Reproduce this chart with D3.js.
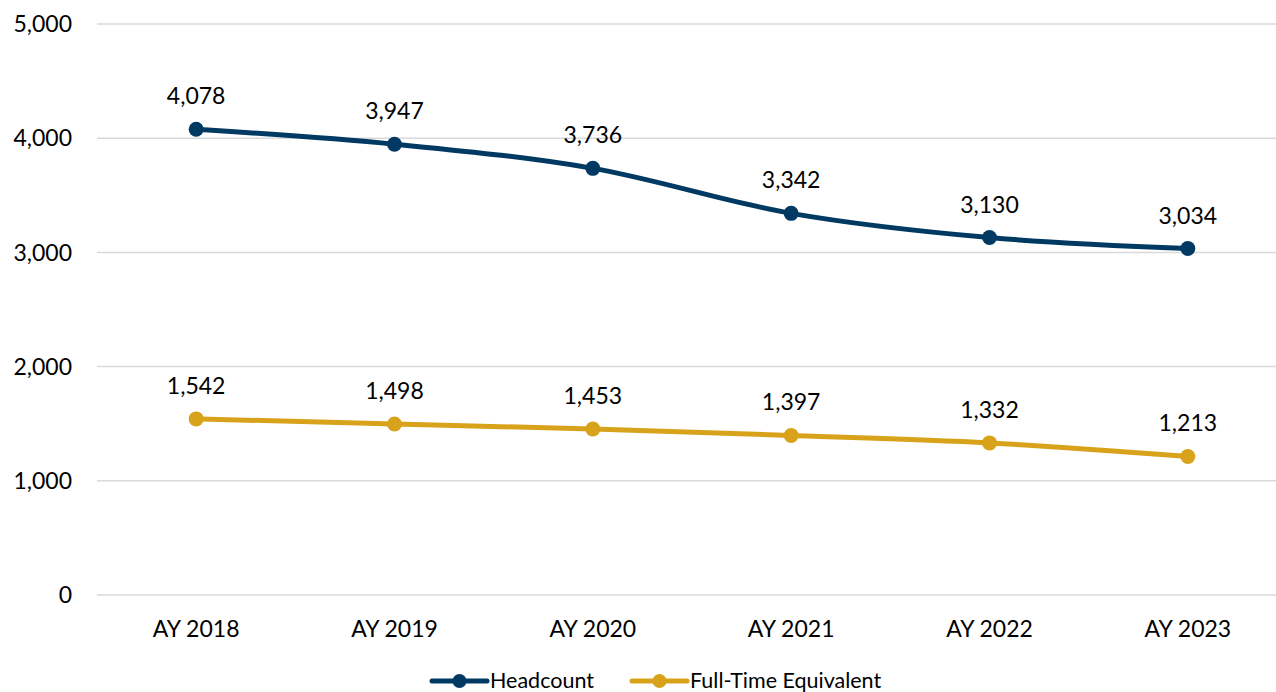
<!DOCTYPE html>
<html><head><meta charset="utf-8">
<script src="https://cdn.jsdelivr.net/npm/d3@7/dist/d3.min.js"></script>
<style>html,body{margin:0;padding:0;background:#fff;overflow:hidden}svg{display:block}</style>
</head><body><svg id="c" width="1276" height="692"></svg>
<script>
const categories = ["AY 2018","AY 2019","AY 2020","AY 2021","AY 2022","AY 2023"];
const headcount = [4078,3947,3736,3342,3130,3034];
const fte = [1542,1498,1453,1397,1332,1213];
const yTicks = [0,1000,2000,3000,4000,5000];
const seriesNames = ["Headcount","Full-Time Equivalent"];
const colors = ["#003A63","#D8A31A"];

const svg = d3.select("#c");
const font = "Lato, 'Open Sans', sans-serif";
const x = d3.scalePoint().domain(categories).range([97,1287]).padding(0.5);
const y = d3.scaleLinear().domain([0,5000]).range([595,24]);
const fmt = d3.format(",");

svg.append("g").selectAll("line").data(yTicks).join("line")
  .attr("x1",97).attr("x2",1276).attr("y1",d=>y(d)).attr("y2",d=>y(d))
  .attr("stroke","#d9d9d9").attr("stroke-width",1.5);

svg.append("g").selectAll("text").data(yTicks).join("text")
  .attr("x",72).attr("y",d=>y(d)).attr("dy","0.36em").attr("text-anchor","end")
  .attr("font-family",font).attr("font-size",23).attr("fill","#000").text(d=>fmt(d));

svg.append("g").selectAll("text").data(categories).join("text")
  .attr("x",d=>x(d)).attr("y",637).attr("text-anchor","middle")
  .attr("font-family",font).attr("font-size",23).attr("fill","#000").text(d=>d);

const line = d3.line().x((d,i)=>x(categories[i])).y(d=>y(d)).curve(d3.curveMonotoneX);
[headcount, fte].forEach((vals,si)=>{
  const g = svg.append("g");
  g.append("path").attr("d",line(vals)).attr("fill","none").attr("stroke",colors[si])
    .attr("stroke-width",5).attr("stroke-linecap","round");
  g.selectAll("circle").data(vals).join("circle")
    .attr("cx",(d,i)=>x(categories[i])).attr("cy",d=>y(d)).attr("r",7.5).attr("fill",colors[si]);
  g.selectAll("text").data(vals).join("text")
    .attr("x",(d,i)=>x(categories[i])).attr("y",d=>y(d)-25).attr("text-anchor","middle")
    .attr("font-family",font).attr("font-size",23).attr("fill","#000").text(d=>fmt(d));
});

const leg = svg.append("g");
const legX = [432,632];
seriesNames.forEach((n,i)=>{
  const lx = legX[i], ly = 681;
  leg.append("line").attr("x1",lx).attr("x2",lx+55).attr("y1",ly).attr("y2",ly)
    .attr("stroke",colors[i]).attr("stroke-width",5).attr("stroke-linecap","round");
  leg.append("circle").attr("cx",lx+27.5).attr("cy",ly).attr("r",7).attr("fill",colors[i]);
  leg.append("text").attr("x",lx+58).attr("y",ly).attr("dy","0.34em")
    .attr("font-family",font).attr("font-size",21.5).attr("fill","#000").text(n);
});
</script></body></html>
